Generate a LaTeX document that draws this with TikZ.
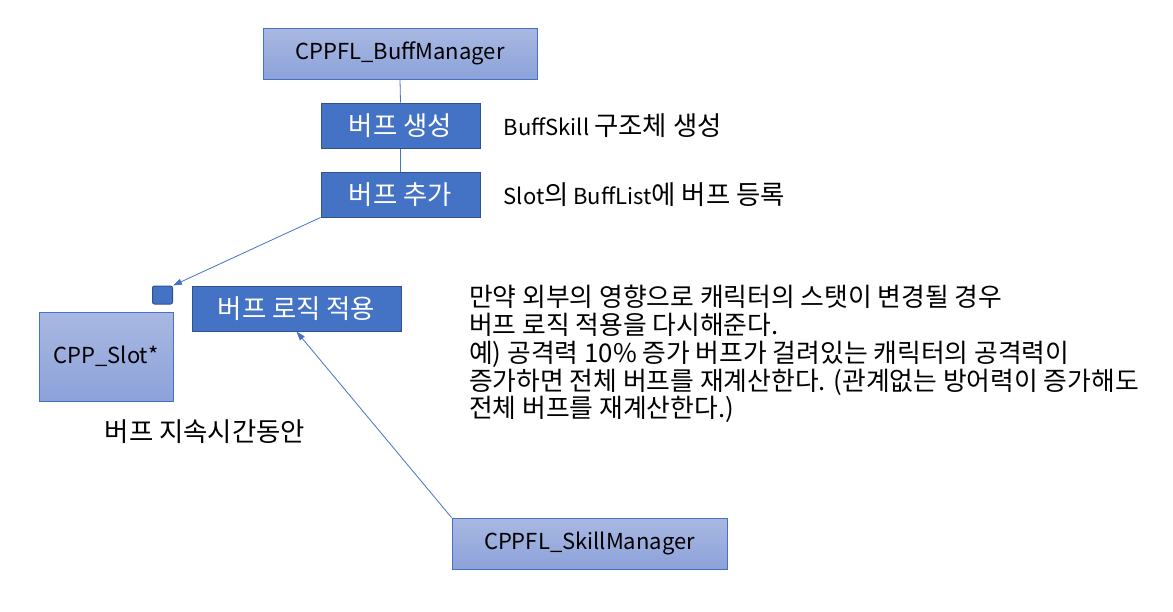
\documentclass[tikz,border=0pt]{standalone}
\usepackage{fontspec}
\setmainfont{Noto Sans CJK KR}
\newfontfamily\krfont{Noto Sans CJK KR}[Scale=1.2]
\usetikzlibrary{arrows.meta,positioning}

\definecolor{ppblue}{HTML}{4472C4}
\definecolor{ppedge}{HTML}{2F528F}
\definecolor{pptop}{RGB}{169,184,226}
\definecolor{ppbot}{RGB}{140,162,218}

\begin{document}
\begin{tikzpicture}[
  x=1pt, y=-1pt,
  every node/.style={inner sep=0pt, font=\fontsize{22}{28}\selectfont},
  classbox/.style={draw=ppblue, line width=1pt, top color=pptop, bottom color=ppbot,
    text=black},
  stepbox/.style={draw=ppedge, line width=1pt, fill=ppblue, text=white,
    minimum width=159pt, minimum height=45pt, font=\fontsize{22}{28}\krfont},
  note/.style={anchor=west, text=black},
  link/.style={draw=ppblue, line width=0.8pt},
  arrow/.style={link, -{Triangle[length=9pt, width=6pt]}}
]
\useasboundingbox (0,0) rectangle (1173,611);

% classes
\node[classbox, minimum width=274pt, minimum height=51pt] (buffmgr) at (400,53.5) {CPPFL\_BuffManager};
\node[classbox, minimum width=134pt, minimum height=89pt] (slot) at (106,356.5) {CPP\_Slot*};
\node[classbox, minimum width=275pt, minimum height=51pt] (skillmgr) at (589.5,543.5) {CPPFL\_SkillManager};

% buff steps
\node[stepbox] (create) at (400.5,125.5) {버프 생성};
\node[stepbox] (add) at (400.5,194.5) {버프 추가};
\node[stepbox, minimum width=209pt] (apply) at (296.5,308.5) {버프 로직 적용};
\node[draw=ppedge, line width=1pt, fill=ppblue, rounded corners=2pt,
  minimum width=20pt, minimum height=18pt] (port) at (162.5,295) {};

% notes
\node[note, right=23pt of create] (createnote) {BuffSkill {\krfont 구조체 생성}};
\node[note, right=23pt of add] (addnote) {Slot{\krfont 의} BuffList{\krfont 에 버프 등록}};
\node[text=black, font=\fontsize{22}{28}\krfont] (duration) at (205,432) {버프 지속시간동안};
\node[anchor=north west, align=left, text=black, font=\fontsize{21.5}{27.8}\krfont] (recalc) at (469,285)
  {만약 외부의 영향으로 캐릭터의 스탯이 변경될 경우\\
   버프 로직 적용을 다시해준다.\\
   예) 공격력 10\% 증가 버프가 걸려있는 캐릭터의 공격력이\\
   증가하면 전체 버프를 재계산한다. (관계없는 방어력이 증가해도\\
   전체 버프를 재계산한다.)};

% connectors
\draw[link] (buffmgr.south) -- (create.north);
\draw[link] (create.south) -- (add.north);
\draw[arrow] (add.south west) -- (port.north east);
\draw[arrow] (skillmgr.north west) -- (apply.south);
\end{tikzpicture}
\end{document}
